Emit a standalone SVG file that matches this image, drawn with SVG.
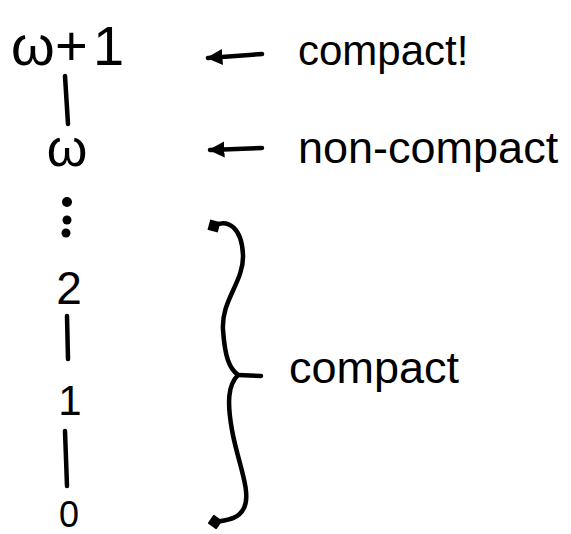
<svg xmlns="http://www.w3.org/2000/svg" width="571" height="534" viewBox="0 0 571 534">
  <style>
    .t { font-family: "Liberation Sans", "DejaVu Sans", sans-serif; fill: #000; }
    .ln { stroke: #000; stroke-width: 4.5; fill: none; stroke-linecap: round; stroke-linejoin: round; }
  </style>
  <defs>
    <marker id="ah" viewBox="0 0 10 10" refX="9" refY="5" markerUnits="userSpaceOnUse" markerWidth="16" markerHeight="17" orient="auto-start-reverse">
      <path d="M0,0 L10,5 L0,10 z" fill="#000"/>
    </marker>
    <marker id="dot" viewBox="0 0 10 10" refX="5" refY="5" markerUnits="userSpaceOnUse" markerWidth="15" markerHeight="15" orient="auto">
      <path d="M5,0 L10,5 L5,10 L0,5 z" fill="#000"/>
    </marker>
  </defs>
  <rect width="571" height="534" fill="#fff"/>

  <g id="connectors">
    <path class="ln" d="M65,76 L68,124"/>
    <path class="ln" d="M67,316 L68,359"/>
    <path class="ln" d="M65,431 L67,486"/>
    <path class="ln" d="M208,58 L262,54" marker-start="url(#ah)"/>
    <path class="ln" d="M210,150 L262,148" marker-start="url(#ah)"/>
    <path class="ln" d="M214,226 C228,218 242,228 243,255 C244,282 221,300 223,330 C225,357 229,368 238,375 C228,385 227,402 232,430 C237,460 252,492 244,508 C238,520 226,520 215,522" marker-start="url(#dot)" marker-end="url(#dot)"/>
    <path class="ln" d="M238,375 L261,376"/>
  </g>

  <g id="node-omega-plus-1">
    <text class="t" y="65" font-size="56"><tspan x="11">ω</tspan><tspan x="55">+</tspan><tspan x="93">1</tspan></text>
  </g>
  <g id="node-omega">
    <text class="t" x="67" y="166" font-size="52" text-anchor="middle">ω</text>
  </g>
  <g id="node-dots">
    <circle cx="67" cy="202" r="5"/>
    <circle cx="67" cy="220" r="4.5"/>
    <circle cx="66" cy="233" r="4.5"/>
  </g>
  <g id="node-2">
    <text class="t" x="69" y="304" font-size="46" text-anchor="middle">2</text>
  </g>
  <g id="node-1">
    <text class="t" x="70" y="415" font-size="42" text-anchor="middle">1</text>
  </g>
  <g id="node-0">
    <text class="t" x="69" y="527" font-size="36" text-anchor="middle">0</text>
  </g>

  <g id="label-compact-bang">
    <text class="t" x="298" y="65" font-size="42">compact!</text>
  </g>
  <g id="label-non-compact">
    <text class="t" x="298" y="163" font-size="45">non-compact</text>
  </g>
  <g id="label-compact">
    <text class="t" x="289" y="383" font-size="45">compact</text>
  </g>
</svg>
